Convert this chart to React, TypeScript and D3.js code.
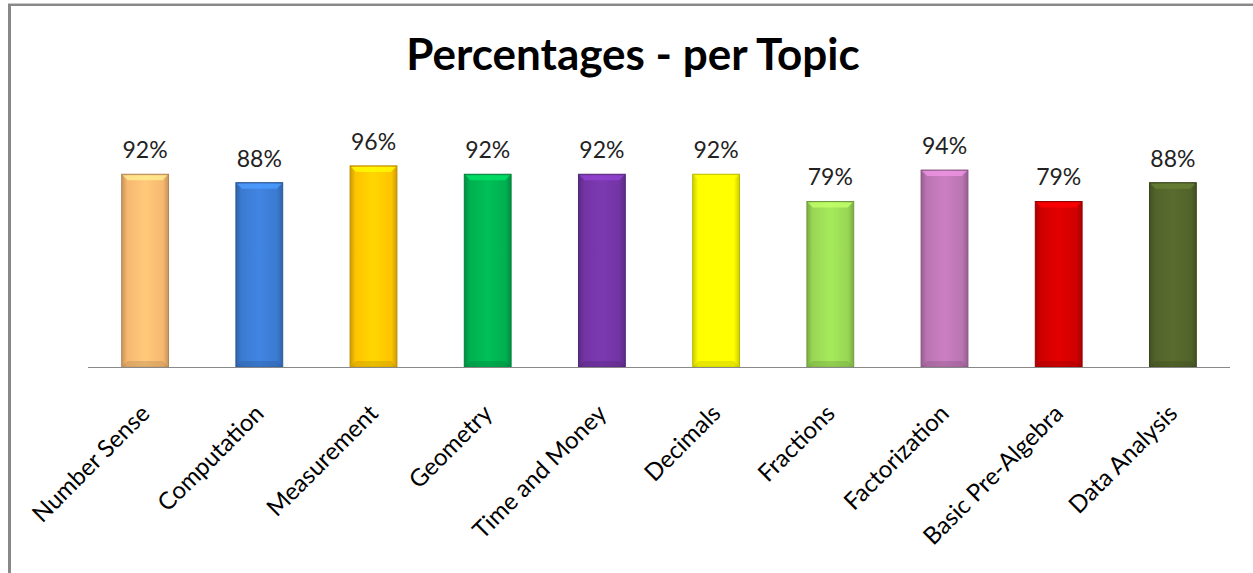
import React from "react";
import * as d3 from "d3";

const categories = [
  "Number Sense",
  "Computation",
  "Measurement",
  "Geometry",
  "Time and Money",
  "Decimals",
  "Fractions",
  "Factorization",
  "Basic Pre-Algebra",
  "Data Analysis",
];
const values = [92, 88, 96, 92, 92, 92, 79, 94, 79, 88];
const colors = [
  "#F7B870",
  "#3B7AD0",
  "#FFC400",
  "#00B050",
  "#7234A3",
  "#FFFF00",
  "#98D654",
  "#BA74B2",
  "#D00000",
  "#51632A",
];
const title = "Percentages - per Topic";

const W = 1253;
const H = 573;
const left = 88;
const right = 1230;
const baseY = 367;
const fullY = 157.5;

export default function App() {
  const x = d3
    .scaleBand<string>()
    .domain(categories)
    .range([left, right])
    .paddingInner(0.59)
    .paddingOuter(0.295);
  const y = d3.scaleLinear().domain([0, 100]).range([baseY, fullY]);
  const bw = x.bandwidth();

  return (
    <svg
      width={W}
      height={H}
      style={{ position: "absolute", left: 0, top: 0, background: "#fff" }}
    >
      <defs>
        {colors.map((c, i) => {
          const base = d3.color(c)!;
          const dark = d3.color(c)!.darker(0.6).formatHex();
          const light = d3.color(c)!.brighter(0.25).formatHex();
          return (
            <linearGradient key={i} id={`g${i}`} x1="0" x2="1" y1="0" y2="0">
              <stop offset="0" stopColor={dark} />
              <stop offset="0.12" stopColor={base.formatHex()} />
              <stop offset="0.5" stopColor={light} />
              <stop offset="0.88" stopColor={base.formatHex()} />
              <stop offset="1" stopColor={dark} />
            </linearGradient>
          );
        })}
      </defs>
      {/* chart border (cut off right and bottom) */}
      <rect x={9.5} y={4.5} width={W + 20} height={H + 20} fill="#fff" stroke="#888" strokeWidth={3} />
      <line x1={8} x2={W} y1={3.5} y2={3.5} stroke="#c8c8c8" strokeWidth={1} />

      <text
        x={633}
        y={70}
        textAnchor="middle"
        fontFamily="Lato, 'Open Sans', sans-serif"
        fontWeight={700}
        fontSize={44}
        fill="#000"
      >
        {title}
      </text>

      {categories.map((c, i) => {
        const bx = x(c)!;
        const top = y(values[i]);
        const h = baseY - top;
        const dark = d3.color(colors[i])!.darker(0.9).formatHex();
        const light = d3.color(colors[i])!.brighter(0.7).formatHex();
        const bev = 6;
        return (
          <g key={c}>
            <rect x={bx} y={top} width={bw} height={h} fill={`url(#g${i})`} stroke={dark} strokeWidth={1} />
            <polygon
              points={`${bx + 1},${top + 1} ${bx + bw - 1},${top + 1} ${bx + bw - bev},${top + bev} ${bx + bev},${top + bev}`}
              fill={light}
              opacity={0.8}
            />
            <polygon
              points={`${bx + 1},${baseY - 1} ${bx + bw - 1},${baseY - 1} ${bx + bw - bev},${baseY - bev} ${bx + bev},${baseY - bev}`}
              fill={dark}
              opacity={0.35}
            />
            <text
              x={bx + bw / 2}
              y={top - 16}
              textAnchor="middle"
              fontFamily="Lato, 'Open Sans', sans-serif"
              fontSize={23}
              fill="#222"
            >
              {values[i]}%
            </text>
            <text
              transform={`translate(${bx + bw / 2 + 6},${415}) rotate(-45)`}
              textAnchor="end"
              fontFamily="Lato, 'Open Sans', sans-serif"
              fontSize={24}
              fill="#000"
            >
              {c}
            </text>
          </g>
        );
      })}
      <line x1={left} x2={right} y1={baseY + 0.5} y2={baseY + 0.5} stroke="#888" strokeWidth={1} />
    </svg>
  );
}
